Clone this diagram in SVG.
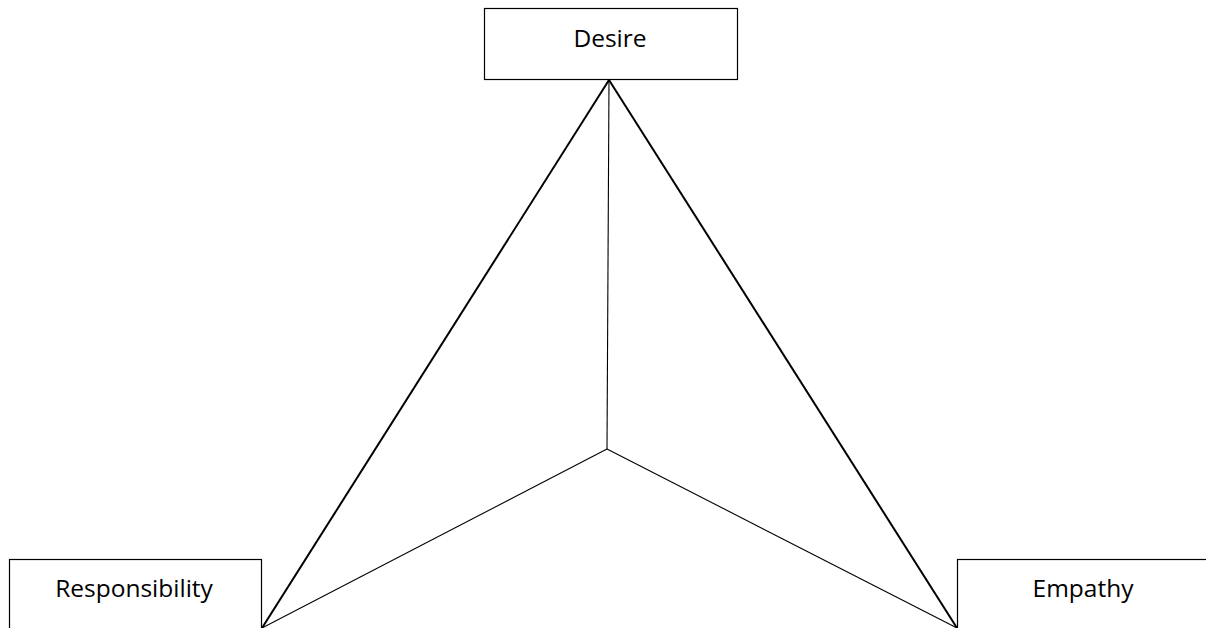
<svg xmlns="http://www.w3.org/2000/svg" width="1206" height="628" viewBox="0 0 1206 628">
<style>
.box{fill:#fff;stroke:#000;stroke-width:1.2}
.lbl{font-family:"Open Sans","Liberation Sans",sans-serif;font-size:24.5px;fill:#000;text-anchor:middle}
.thick{stroke:#000;stroke-width:2;fill:none}
.thin{stroke:#000;stroke-width:1.1;fill:none}
</style>
<rect width="1206" height="628" fill="#fff"/>
<g id="connectors">
<line class="thick" x1="609" y1="80" x2="262" y2="628"/>
<line class="thick" x1="609" y1="80" x2="957" y2="628"/>
<line class="thin" x1="609" y1="80" x2="607" y2="449"/>
<line class="thin" x1="607" y1="449" x2="262" y2="628"/>
<line class="thin" x1="607" y1="449" x2="957" y2="628"/>
</g>
<g id="desire">
<rect class="box" x="484.5" y="8.5" width="253" height="71"/>
<text class="lbl" x="610" y="47">Desire</text>
</g>
<g id="responsibility">
<rect class="box" x="9.5" y="559.5" width="252" height="80"/>
<text class="lbl" x="134" y="597">Responsibility</text>
</g>
<g id="empathy">
<rect class="box" x="957.5" y="559.5" width="260" height="80"/>
<text class="lbl" x="1083" y="597">Empathy</text>
</g>
</svg>
